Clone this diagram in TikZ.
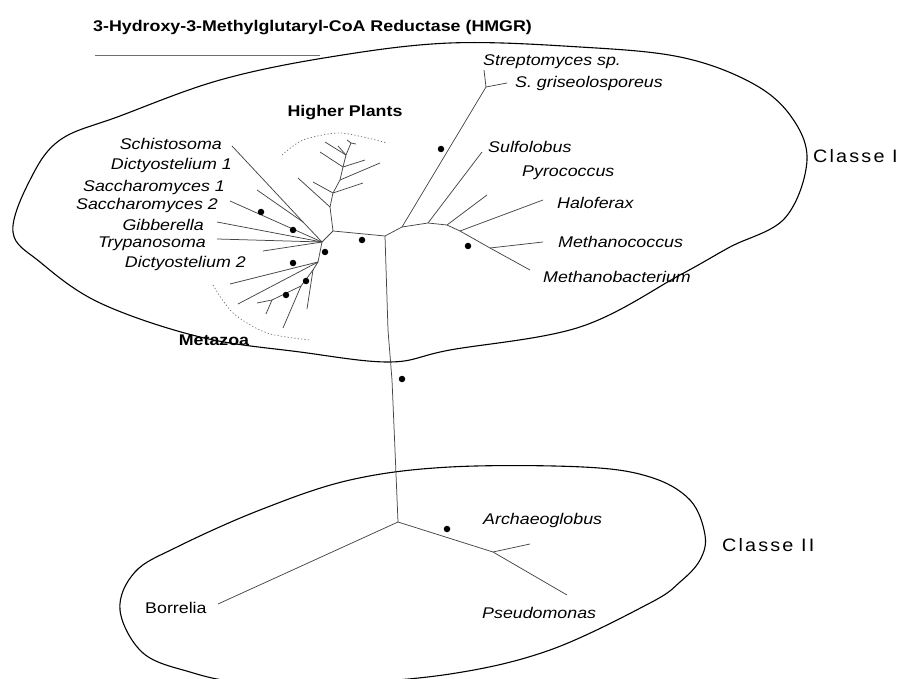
\documentclass[tikz,border=0pt]{standalone}
\usepackage{fontspec}
\usepackage{tikz}
\usetikzlibrary{positioning,calc}
\newfontfamily\labfont[FakeStretch=1.15]{Liberation Sans}
\newfontfamily\classfont[FakeStretch=1.1,LetterSpace=12]{Liberation Sans}
\definecolor{brclr}{RGB}{70,70,70}
\definecolor{arcclr}{RGB}{110,110,110}
\tikzset{
  branch/.style={draw=brclr,line width=0.75pt,line join=round},
  hull/.style={draw=black,line width=1.1pt},
  taxon/.style={inner sep=0pt,font=\labfont\fontsize{15.5}{18}\selectfont\itshape},
  taxonL/.style={taxon,anchor=west},
  taxonR/.style={taxon,anchor=east},
  clade/.style={inner sep=0pt,font=\labfont\fontsize{15.5}{18}\selectfont\bfseries},
  classlab/.style={inner sep=0pt,anchor=west,font=\classfont\fontsize{18}{21}\selectfont},
  boot/.style={circle,fill=black,inner sep=0pt,minimum size=6.5pt},
  cladearc/.style={draw=arcclr,line width=0.7pt,dash pattern=on 1.2pt off 2.2pt},
}

\begin{document}
\begin{tikzpicture}[x=1pt,y=-1pt]
\useasboundingbox (0,0) rectangle (905,679);

% ── title
\node[clade,anchor=west] (title) at (93,28) {3-Hydroxy-3-Methylglutaryl-CoA Reductase (HMGR)};
\draw[draw=arcclr,line width=0.7pt] (95,55) -- (320,55);

% ── class hulls
\draw[hull] plot[smooth cycle,tension=0.6] coordinates {
  (13,232) (30,180) (60,140) (120,116) (220,80) (330,57) (450,43) (580,47)
  (680,57) (750,82) (790,115) (807,160) (785,218) (730,247) (680,275)
  (580,327) (450,350) (390,362) (300,352) (200,337) (100,303) (40,262)};
\draw[hull] plot[smooth cycle,tension=0.6] coordinates {
  (120,610) (135,572) (177,547) (260,510) (350,480) (450,467) (583,467)
  (650,477) (690,500) (705,535) (700,560) (680,582) (650,603) (550,650)
  (450,674) (330,684) (240,682) (190,672) (143,653)};
\node[classlab] (cl1) at (813,156) {Classe I};
\node[classlab] (cl2) at (722,545) {Classe II};

% ── trunk
\coordinate (jI)  at (385,236);
\coordinate (t1)  at (388,330);
\coordinate (t2)  at (392,380);
\coordinate (t3)  at (395,450);
\coordinate (jII) at (398,522);
\draw[branch] (jI) -- (t1) -- (t2) -- (t3) -- (jII);
\node[boot] (bt) at (402,379) {};

% ── Classe II
\coordinate (jAr)  at (493,552);
\coordinate (borT) at (218,604);
\coordinate (psT)  at (567,595);
\coordinate (arT)  at (530,544);
\draw[branch] (jII) -- (borT);
\draw[branch] (jII) -- (jAr) -- (psT);
\draw[branch] (jAr) -- (arT);
\node[boot] (b2) at (447,529) {};
\node[taxonL,font=\labfont\fontsize{15.5}{18}\selectfont] (bor) at (145,608) {Borrelia};
\node[taxonL] (arc) at (483,520) {Archaeoglobus};
\node[taxonL] (pse) at (482,613) {Pseudomonas};

% ── archaea / streptomyces side
\coordinate (jR)   at (402,227);
\coordinate (jR2)  at (428,223);
\coordinate (jR3)  at (447,225);
\coordinate (jR4)  at (460,231);
\coordinate (jR5)  at (490,248);
\coordinate (strJ) at (486,87);
\coordinate (strA) at (484,70);
\coordinate (strB) at (507,83);
\coordinate (sulT) at (482,152);
\coordinate (pyrT) at (487,195);
\coordinate (halT) at (543,200);
\coordinate (mcoT) at (543,242);
\coordinate (mbaT) at (530,270);
\draw[branch] (jI) -- (jR) -- (jR2) -- (jR3) -- (jR4) -- (jR5) -- (mbaT);
\draw[branch] (jR) -- (strJ) -- (strA);
\draw[branch] (strJ) -- (strB);
\draw[branch] (jR2) -- (sulT);
\draw[branch] (jR3) -- (pyrT);
\draw[branch] (jR4) -- (halT);
\draw[branch] (jR5) -- (mcoT);
\node[boot] (b3) at (441,149) {};
\node[boot] (b4) at (468,246) {};
\node[taxonL] (stS) at (483,62)  {Streptomyces sp.};
\node[taxonL] (stG) at (515,83)  {S. griseolosporeus};
\node[taxonL] (sul) at (488,147) {Sulfolobus};
\node[taxonL] (pyr) at (522,173) {Pyrococcus};
\node[taxonL] (hal) at (557,203) {Haloferax};
\node[taxonL] (mco) at (558,242) {Methanococcus};
\node[taxonL] (mba) at (543,277) {Methanobacterium};

% ── eukaryote side
\coordinate (jA) at (333,231);
\coordinate (jB) at (322,242);
\coordinate (jC) at (318,262);
\draw[branch] (jI) -- (jA) -- (jB) -- (jC);
\node[boot] (b5) at (362,240) {};
\node[boot] (b6) at (325,252) {};

% upper fan
\coordinate (schT)  at (232,146);
\coordinate (m1)    at (303,222);
\coordinate (sac1T) at (257,190);
\coordinate (sac2T) at (230,201);
\coordinate (gibT)  at (217,222);
\coordinate (tryT)  at (217,239);
\coordinate (unT)   at (263,251);
\draw[branch] (schT) -- (m1) -- (jB);
\draw[branch] (sac1T) -- (m1);
\draw[branch] (sac2T) -- (jB);
\draw[branch] (gibT) -- (jB);
\draw[branch] (tryT) -- (jB);
\draw[branch] (unT) -- (jB);
\node[boot] (b7) at (261,212) {};
\node[boot] (b8) at (293,230) {};

% lower fan (metazoa)
\coordinate (dic2T) at (230,284);
\coordinate (mz1T)  at (238,304);
\coordinate (m2)    at (313,270);
\coordinate (m3)    at (301,286);
\coordinate (m4)    at (272,300);
\coordinate (mz2T)  at (257,303);
\coordinate (mz3T)  at (266,314);
\coordinate (mz4T)  at (283,328);
\coordinate (mz5T)  at (307,309);
\draw[branch] (dic2T) -- (jC);
\draw[branch] (mz1T) -- (jC) -- (m2) -- (m3) -- (m4) -- (mz2T);
\draw[branch] (m4) -- (mz3T);
\draw[branch] (m3) -- (mz4T);
\draw[branch] (m2) -- (mz5T);
\node[boot] (b9)  at (293,263) {};
\node[boot] (b10) at (306,281) {};
\node[boot] (b11) at (286,295) {};
\draw[cladearc] plot[smooth] coordinates {(213,285) (233,313) (267,333) (310,340)};

% higher plants
\coordinate (h1) at (330,207);
\coordinate (h2) at (333,193);
\coordinate (h3) at (340,180);
\coordinate (h4) at (343,167);
\coordinate (h5) at (346,155);
\coordinate (h6) at (351,143);
\draw[branch] (jA) -- (h1) -- (h2) -- (h3) -- (h4) -- (h5) -- (h6);
\draw[branch] (h1) -- (298,178);
\draw[branch] (h2) -- (313,182);
\draw[branch] (h2) -- (363,183);
\draw[branch] (h3) -- (380,163);
\draw[branch] (h4) -- (320,152);
\draw[branch] (h4) -- (365,160);
\draw[branch] (h5) -- (325,142);
\draw[branch] (h5) -- (338,146);
\draw[branch] (h6) -- (356,144);
\draw[branch] (h6) -- (347,140);
\draw[cladearc] plot[smooth] coordinates {(282,155) (303,140) (337,133) (363,137) (387,143)};

% ── left labels
\node[taxonR] (sch)  at (222,144) {Schistosoma};
\node[taxonR] (dic1) at (232,165) {Dictyostelium 1};
\node[taxonR] (sac1) at (225,187) {Saccharomyces 1};
\node[taxonR] (sac2) at (218,205) {Saccharomyces 2};
\node[taxonR] (gib)  at (204,225) {Gibberella};
\node[taxonR] (try)  at (206,244) {Trypanosoma};
\node[taxonR] (dic2) at (246,263) {Dictyostelium 2};
\node[clade] (meta) at (214,340) {Metazoa};
\node[clade] (hpl)  at (345,113) {Higher Plants};

\end{tikzpicture}
\end{document}
